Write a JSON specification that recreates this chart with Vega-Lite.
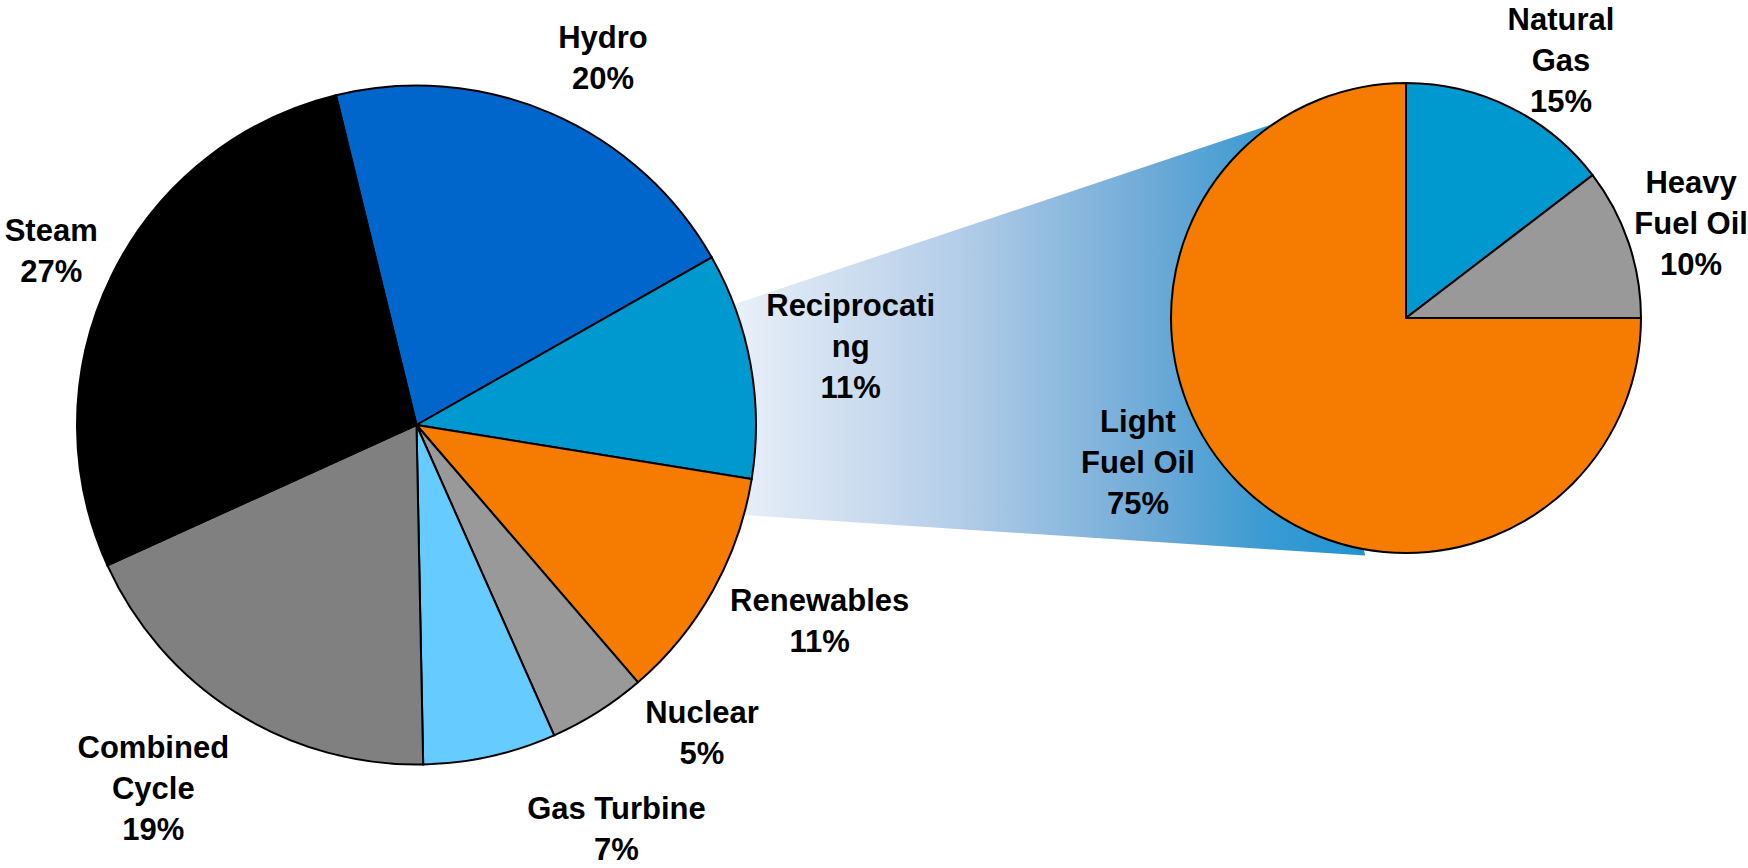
{
  "$schema": "https://vega.github.io/schema/vega-lite/v6.json",
  "width": 1748,
  "height": 868,
  "padding": 0,
  "autosize": {"type": "none"},
  "background": "white",
  "config": {
    "view": {"stroke": null},
    "text": {"font": "Liberation Sans", "fontWeight": "bold", "fontSize": 31, "lineHeight": 41, "color": "#000000", "align": "center", "baseline": "middle"}
  },
  "datasets": {
    "generation": [
      {"source": "Hydro", "share": 0.206, "order": 1, "label": ["Hydro", "20%"]},
      {"source": "Reciprocating", "share": 0.1076, "order": 2, "label": ["Reciprocati", "ng", "11%"]},
      {"source": "Renewables", "share": 0.1114, "order": 3, "label": ["Renewables", "11%"]},
      {"source": "Nuclear", "share": 0.0467, "order": 4, "label": ["Nuclear", "5%"]},
      {"source": "Gas Turbine", "share": 0.0633, "order": 5, "label": ["Gas Turbine", "7%"]},
      {"source": "Combined Cycle", "share": 0.1853, "order": 6, "label": ["Combined", "Cycle", "19%"]},
      {"source": "Steam", "share": 0.2797, "order": 7, "label": ["Steam", "27%"]}
    ],
    "reciprocating": [
      {"fuel": "Natural Gas", "share": 0.146, "order": 1, "label": ["Natural", "Gas", "15%"]},
      {"fuel": "Heavy Fuel Oil", "share": 0.104, "order": 2, "label": ["Heavy", "Fuel Oil", "10%"]},
      {"fuel": "Light Fuel Oil", "share": 0.75, "order": 3, "label": ["Light", "Fuel Oil", "75%"]}
    ],
    "connector": [
      {"x": 720, "top": 308.9, "bottom": 513.4},
      {"x": 1273, "top": 124, "bottom": 549.6},
      {"x": 1365, "top": 555, "bottom": 555.6}
    ]
  },
  "layer": [
    {
      "data": {"name": "connector"},
      "mark": {
        "type": "area",
        "interpolate": "linear",
        "fill": {
          "gradient": "linear",
          "x1": 0, "y1": 0, "x2": 1, "y2": 0,
          "stops": [
            {"offset": 0, "color": "#F4F7FC"},
            {"offset": 0.04, "color": "#E6EEF7"},
            {"offset": 0.37, "color": "#B4CDE8"},
            {"offset": 0.67, "color": "#6EAAD7"},
            {"offset": 0.84, "color": "#3C9BD2"},
            {"offset": 1, "color": "#2094D2"}
          ]
        }
      },
      "encoding": {
        "x": {"field": "x", "type": "quantitative", "scale": {"domain": [0, 1748], "nice": false, "zero": false}, "axis": null},
        "y": {"field": "top", "type": "quantitative", "scale": {"domain": [0, 868], "reverse": true, "nice": false, "zero": false}, "axis": null},
        "y2": {"field": "bottom"}
      }
    },
    {
      "data": {"name": "generation"},
      "encoding": {
        "x": {"datum": 416.5, "type": "quantitative"},
        "y": {"datum": 425, "type": "quantitative"},
        "theta": {"field": "share", "type": "quantitative", "stack": true, "scale": {"range": [-0.2396, 6.0436]}},
        "order": {"field": "order", "type": "quantitative"},
        "detail": {"field": "source", "type": "nominal"}
      },
      "layer": [
        {
          "mark": {"type": "arc", "radius": 339.5, "stroke": "#000000", "strokeWidth": 2},
          "encoding": {
            "color": {
              "field": "source", "type": "nominal", "legend": null,
              "scale": {
                "domain": ["Hydro", "Reciprocating", "Renewables", "Nuclear", "Gas Turbine", "Combined Cycle", "Steam"],
                "range": ["#0066CC", "#0099CF", "#F57C00", "#999999", "#66CCFF", "#808080", "#000000"]
              }
            }
          }
        },
        {
          "mark": {"type": "text", "radius": 410, "thetaOffset": 0.0645, "dy": -20.5},
          "encoding": {"text": {"condition": {"test": "datum.source === 'Hydro'", "field": "label", "type": "nominal"}, "value": ""}}
        },
        {
          "mark": {"type": "text", "radius": 404, "thetaOffset": -0.0112, "dy": -20.5},
          "encoding": {"text": {"condition": {"test": "datum.source === 'Steam'", "field": "label", "type": "nominal"}, "value": ""}}
        },
        {
          "mark": {"type": "text", "radius": 441, "thetaOffset": 0.0017, "dy": -41},
          "encoding": {"text": {"condition": {"test": "datum.source === 'Reciprocating'", "field": "label", "type": "nominal"}, "value": ""}}
        },
        {
          "mark": {"type": "text", "radius": 449, "thetaOffset": -0.0544, "dy": -20.5},
          "encoding": {"text": {"condition": {"test": "datum.source === 'Renewables'", "field": "label", "type": "nominal"}, "value": ""}}
        },
        {
          "mark": {"type": "text", "radius": 421, "thetaOffset": -0.1811, "dy": -20.5},
          "encoding": {"text": {"condition": {"test": "datum.source === 'Nuclear'", "field": "label", "type": "nominal"}, "value": ""}}
        },
        {
          "mark": {"type": "text", "radius": 456, "thetaOffset": -0.2353, "dy": -24.5},
          "encoding": {"text": {"condition": {"test": "datum.source === 'Gas Turbine'", "field": "label", "type": "nominal"}, "value": ""}}
        },
        {
          "mark": {"type": "text", "radius": 450, "thetaOffset": 0.0623, "dy": -41},
          "encoding": {"text": {"condition": {"test": "datum.source === 'Combined Cycle'", "field": "label", "type": "nominal"}, "value": ""}}
        }
      ]
    },
    {
      "data": {"name": "reciprocating"},
      "encoding": {
        "x": {"datum": 1406, "type": "quantitative"},
        "y": {"datum": 318, "type": "quantitative"},
        "theta": {"field": "share", "type": "quantitative", "stack": true},
        "order": {"field": "order", "type": "quantitative"},
        "detail": {"field": "fuel", "type": "nominal"}
      },
      "layer": [
        {
          "mark": {"type": "arc", "radius": 235, "stroke": "#000000", "strokeWidth": 2},
          "encoding": {
            "color": {
              "field": "fuel", "type": "nominal", "legend": null,
              "scale": {
                "domain": ["Natural Gas", "Heavy Fuel Oil", "Light Fuel Oil"],
                "range": ["#0099CF", "#999999", "#F57C00"]
              }
            }
          }
        },
        {
          "mark": {"type": "text", "radius": 302, "thetaOffset": 0.0803, "dy": -38},
          "encoding": {"text": {"condition": {"test": "datum.fuel === 'Natural Gas'", "field": "label", "type": "nominal"}, "value": ""}}
        },
        {
          "mark": {"type": "text", "radius": 300, "thetaOffset": 0.0105, "dy": -41},
          "encoding": {"text": {"condition": {"test": "datum.fuel === 'Heavy Fuel Oil'", "field": "label", "type": "nominal"}, "value": ""}}
        },
        {
          "mark": {"type": "text", "radius": 305, "thetaOffset": 0.288, "dy": -41},
          "encoding": {"text": {"condition": {"test": "datum.fuel === 'Light Fuel Oil'", "field": "label", "type": "nominal"}, "value": ""}}
        }
      ]
    }
  ],
  "resolve": {"scale": {"theta": "independent", "color": "independent"}}
}
